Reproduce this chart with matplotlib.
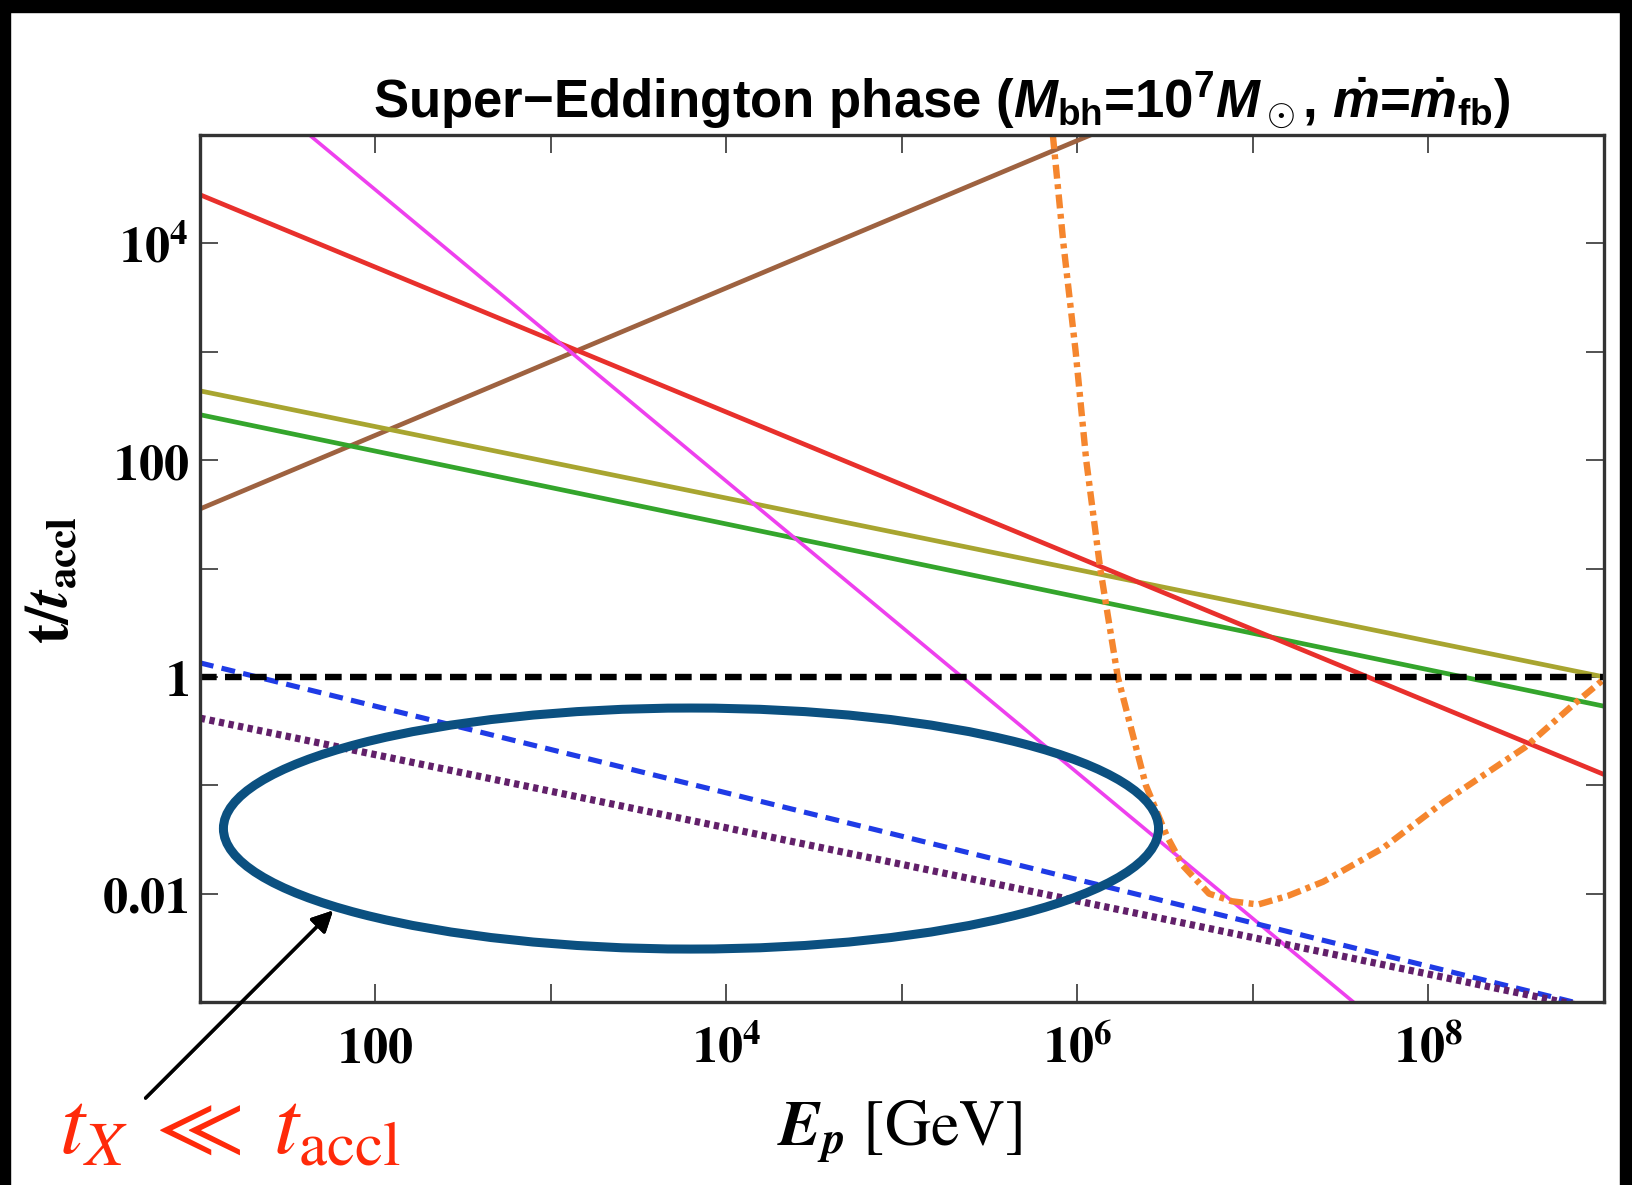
import matplotlib
matplotlib.use('Agg')
import matplotlib.pyplot as plt
import numpy as np
from matplotlib.patches import Ellipse, Rectangle
from matplotlib.ticker import FixedLocator, NullLocator

plt.rcParams['mathtext.fontset'] = 'stix'
plt.rcParams['mathtext.rm'] = 'Liberation Sans:bold'
plt.rcParams['mathtext.it'] = 'Liberation Sans:italic:bold'
plt.rcParams['mathtext.bf'] = 'Liberation Sans:bold'
plt.rcParams['lines.scale_dashes'] = False

# straight lines: values at the two ends of the energy range (log10)
logE_ends = [1, 9]
red_logt = [4.45, -0.90]
magenta_logt = [5.84, -4.92]
brown_logt = [1.55, 6.99]
olive_logt = [2.64, 0.0]
green_logt = [2.42, -0.27]
blue_logt = [0.13, -3.07]
purple_logt = [-0.38, -3.08]
unity_logt = [0.0, 0.0]

# orange dash-dot curve (log10 E, log10 t)
orange_logE = [5.86, 5.92, 5.99, 6.05, 6.13, 6.23, 6.39, 6.51, 6.60, 6.75,
               6.88, 7.03, 7.20, 7.40, 7.74, 8.09, 8.55, 8.83, 9.0]
orange_logt = [5.0, 4.0, 3.0, 2.0, 1.0, 0.0, -1.0, -1.47, -1.74, -2.0,
               -2.07, -2.10, -2.02, -1.89, -1.58, -1.15, -0.65, -0.25, -0.02]

xtick_vals = [1e2, 1e4, 1e6, 1e8]
xtick_labels = [r'$\mathbf{100}$', r'$\mathbf{10^4}$', r'$\mathbf{10^6}$', r'$\mathbf{10^8}$']
ytick_vals = [1e-2, 1, 1e2, 1e4]
ytick_labels = [r'$\mathbf{0.01}$', r'$\mathbf{1}$', r'$\mathbf{100}$', r'$\mathbf{10^4}$']

fig = plt.figure(figsize=(16.32, 11.85), dpi=100, facecolor='white')
ax = fig.add_axes([0.1225, 0.1544, 0.8603, 0.7316])

E = np.power(10.0, logE_ends)
def p10(v):
    return np.power(10.0, v)

ax.plot(E, p10(brown_logt), color='#9e6240', lw=3.4)
ax.plot(E, p10(olive_logt), color='#a8a530', lw=3.4)
ax.plot(E, p10(green_logt), color='#34a52c', lw=3.4)
ax.plot(E, p10(red_logt), color='#e8302c', lw=3.4)
ax.plot(E, p10(magenta_logt), color='#ee40ee', lw=2.6)
ax.plot(E, p10(blue_logt), color='#1f3be6', lw=3.7, ls=(0, (10, 6)))
ax.plot(E, p10(purple_logt), color='#62206a', lw=5.2, ls=(0, (3.8, 3.2)))
ax.plot(p10(orange_logE), p10(orange_logt), color='#f5862e', lw=4.6,
        ls=(0, (10, 4, 3.5, 4)), solid_joinstyle='round')
ax.plot(E, p10(unity_logt), color='black', lw=4.6, ls=(0, (12, 6)))

ax.set_xscale('log')
ax.set_yscale('log')
ax.set_xlim(1e1, 1e9)
ax.set_ylim(1e-3, 1e5)

ax.xaxis.set_major_locator(FixedLocator([10.0**k for k in range(1, 10)]))
ax.yaxis.set_major_locator(FixedLocator([10.0**k for k in range(-3, 6)]))
ax.xaxis.set_minor_locator(NullLocator())
ax.yaxis.set_minor_locator(NullLocator())
xl = [''] * 9
for v, s in zip(xtick_vals, xtick_labels):
    xl[int(round(np.log10(v))) - 1] = s
yl = [''] * 9
for v, s in zip(ytick_vals, ytick_labels):
    yl[int(round(np.log10(v))) + 3] = s
ax.set_xticklabels(xl, fontsize=36)
ax.set_yticklabels(yl, fontsize=36)
ax.tick_params(which='major', direction='in', length=13, width=1.3, color='#444444',
               top=True, right=True)
ax.tick_params(axis='x', pad=16)
ax.tick_params(axis='y', pad=8)
for sp in ax.spines.values():
    sp.set_linewidth(2.4)
    sp.set_color('#333333')

fig.text(0.577, 0.915,
         r'Super−Eddington phase ($M_{\rm bh}$=10$^{\rm 7}$$M_\odot$, $\dot{m}$=$\dot{m}_{\rm fb}$)',
         ha='center', va='center', fontsize=38, fontweight='bold',
         family='Liberation Sans', math_fontfamily='custom')

fig.text(0.032, 0.51, r'$\mathbf{t/}\mathbfit{t}_{\mathbf{accl}}$', rotation=90,
         ha='center', va='center', fontsize=44)
fig.text(0.551, 0.045, r'$\mathbfit{E}_{\mathbfit{p}}\ [\mathrm{GeV}]$',
         ha='center', va='center', fontsize=46)

# highlight ellipse and annotation
ell = Ellipse((0.4234, 0.3008), 0.573, 0.2034, transform=fig.transFigure,
              fill=False, edgecolor='#0b5080', lw=6.5, zorder=10)
fig.add_artist(ell)
fig.add_artist(plt.annotate('', xy=(0.2053, 0.2333), xytext=(0.088, 0.0717),
                            xycoords='figure fraction', textcoords='figure fraction',
                            arrowprops=dict(arrowstyle='-|>', color='black', lw=2.4,
                                            mutation_scale=32)))
fig.text(0.036, 0.027, r'$t_X\;\ll\;t_{\mathrm{accl}}$', color='#ff2a0a',
         fontsize=65, ha='left', va='baseline', math_fontfamily='stix')

# black frame bands of the screenshot
fig.add_artist(Rectangle((0, 1 - 12 / 1185), 1, 12 / 1185, transform=fig.transFigure,
                         color='black', zorder=20))
fig.add_artist(Rectangle((0, 0), 10 / 1632, 1, transform=fig.transFigure,
                         color='black', zorder=20))
fig.add_artist(Rectangle((1 - 12 / 1632, 0), 12 / 1632, 1, transform=fig.transFigure,
                         color='black', zorder=20))

fig.savefig('out.png', dpi=100, facecolor='white')
